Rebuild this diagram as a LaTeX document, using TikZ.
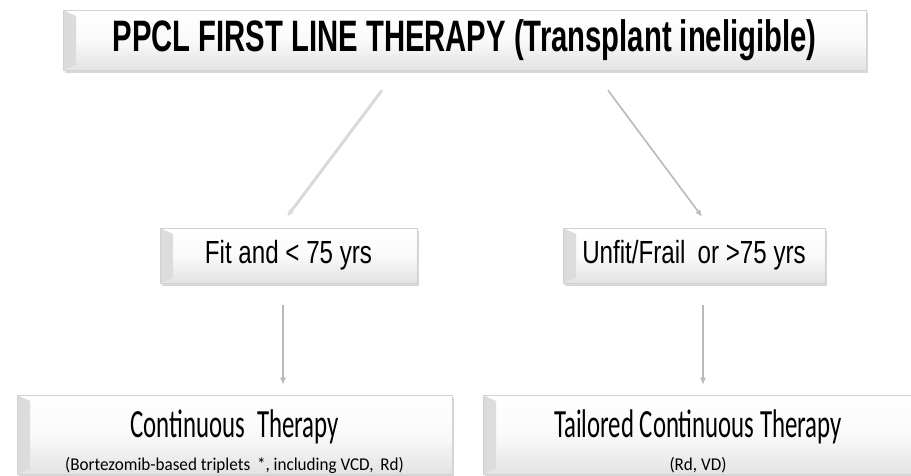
\documentclass[tikz,border=0pt]{standalone}
\usepackage{fontspec}
\usetikzlibrary{arrows.meta,shadows}
\newfontfamily\titlefont[FakeStretch=0.665]{Liberation Sans}
\newfontfamily\boxfont[FakeStretch=0.755]{Liberation Sans}
\newfontfamily\calfont[FakeStretch=0.62]{Carlito}
\newfontfamily\calsmall[FakeStretch=0.95]{Carlito}
\tikzset{
  riquadro/.style={draw=gray!35, line width=0.6pt, top color=white, bottom color=gray!22,
    middle color=gray!4, inner sep=0pt, align=center,
    drop shadow={shadow xshift=1.5pt, shadow yshift=-3pt, fill=gray!60, opacity=0.5},
    path picture={
      \shade[left color=gray!28, right color=gray!4]
        (path picture bounding box.north west)
        -- ([xshift=13pt,yshift=-6pt]path picture bounding box.north west)
        -- ([xshift=13pt,yshift=5pt]path picture bounding box.south west)
        -- (path picture bounding box.south west) -- cycle;}},
  doppia/.style={text height=75pt, text depth=4pt},
  freccia/.style={draw=gray!55, line width=1.6pt, -{Latex[open,length=7pt,width=6pt]}}
}
\begin{document}
\begin{tikzpicture}[x=1pt, y=-1pt]
  \useasboundingbox (0,0) rectangle (911,475);
  %riquadri
  \node[riquadro, minimum width=803pt, minimum height=60pt] (top) at (464.5,40)
    {\titlefont\bfseries\fontsize{44}{46}\selectfont PPCL FIRST LINE THERAPY (Transplant ineligible)};
  \node[riquadro, minimum width=257pt, minimum height=55pt] (fit) at (288.5,255.5)
    {\boxfont\fontsize{32}{34}\selectfont Fit and < 75 yrs};
  \node[riquadro, minimum width=262pt, minimum height=55pt] (unfit) at (694,255.5)
    {\boxfont\fontsize{32}{34}\selectfont Unfit/Frail\, or >75 yrs};
  \node[riquadro, doppia, minimum width=435pt, minimum height=79pt] (cont) at (234.5,434.5)
    {\calfont\fontsize{40}{42}\selectfont Continuous\, Therapy\\[12pt]
     \calsmall\fontsize{18}{19}\selectfont (Bortezomib-based triplets\, *, including VCD,\, Rd)};
  \node[riquadro, doppia, minimum width=430pt, minimum height=79pt] (tail) at (698,434.5)
    {\calfont\fontsize{40}{42}\selectfont Tailored Continuous Therapy\\[12pt]
     \calsmall\fontsize{18}{19}\selectfont (Rd, VD)};
  %frecce
  \draw[freccia, draw=gray!30, line width=3pt] ([xshift=-82.5pt,yshift=-20pt]top.south)
    -- ([xshift=-1.5pt,yshift=11pt]fit.north);
  \draw[freccia] ([xshift=143.5pt,yshift=-20pt]top.south)
    -- ([xshift=8pt,yshift=11pt]unfit.north);
  \draw[freccia] ([xshift=-5.5pt,yshift=-22pt]fit.south)
    -- ([xshift=-5.5pt,yshift=10pt]fit.south |- cont.north);
  \draw[freccia] ([xshift=9pt,yshift=-22pt]unfit.south)
    -- ([xshift=9pt,yshift=10pt]unfit.south |- tail.north);
\end{tikzpicture}
\end{document}
